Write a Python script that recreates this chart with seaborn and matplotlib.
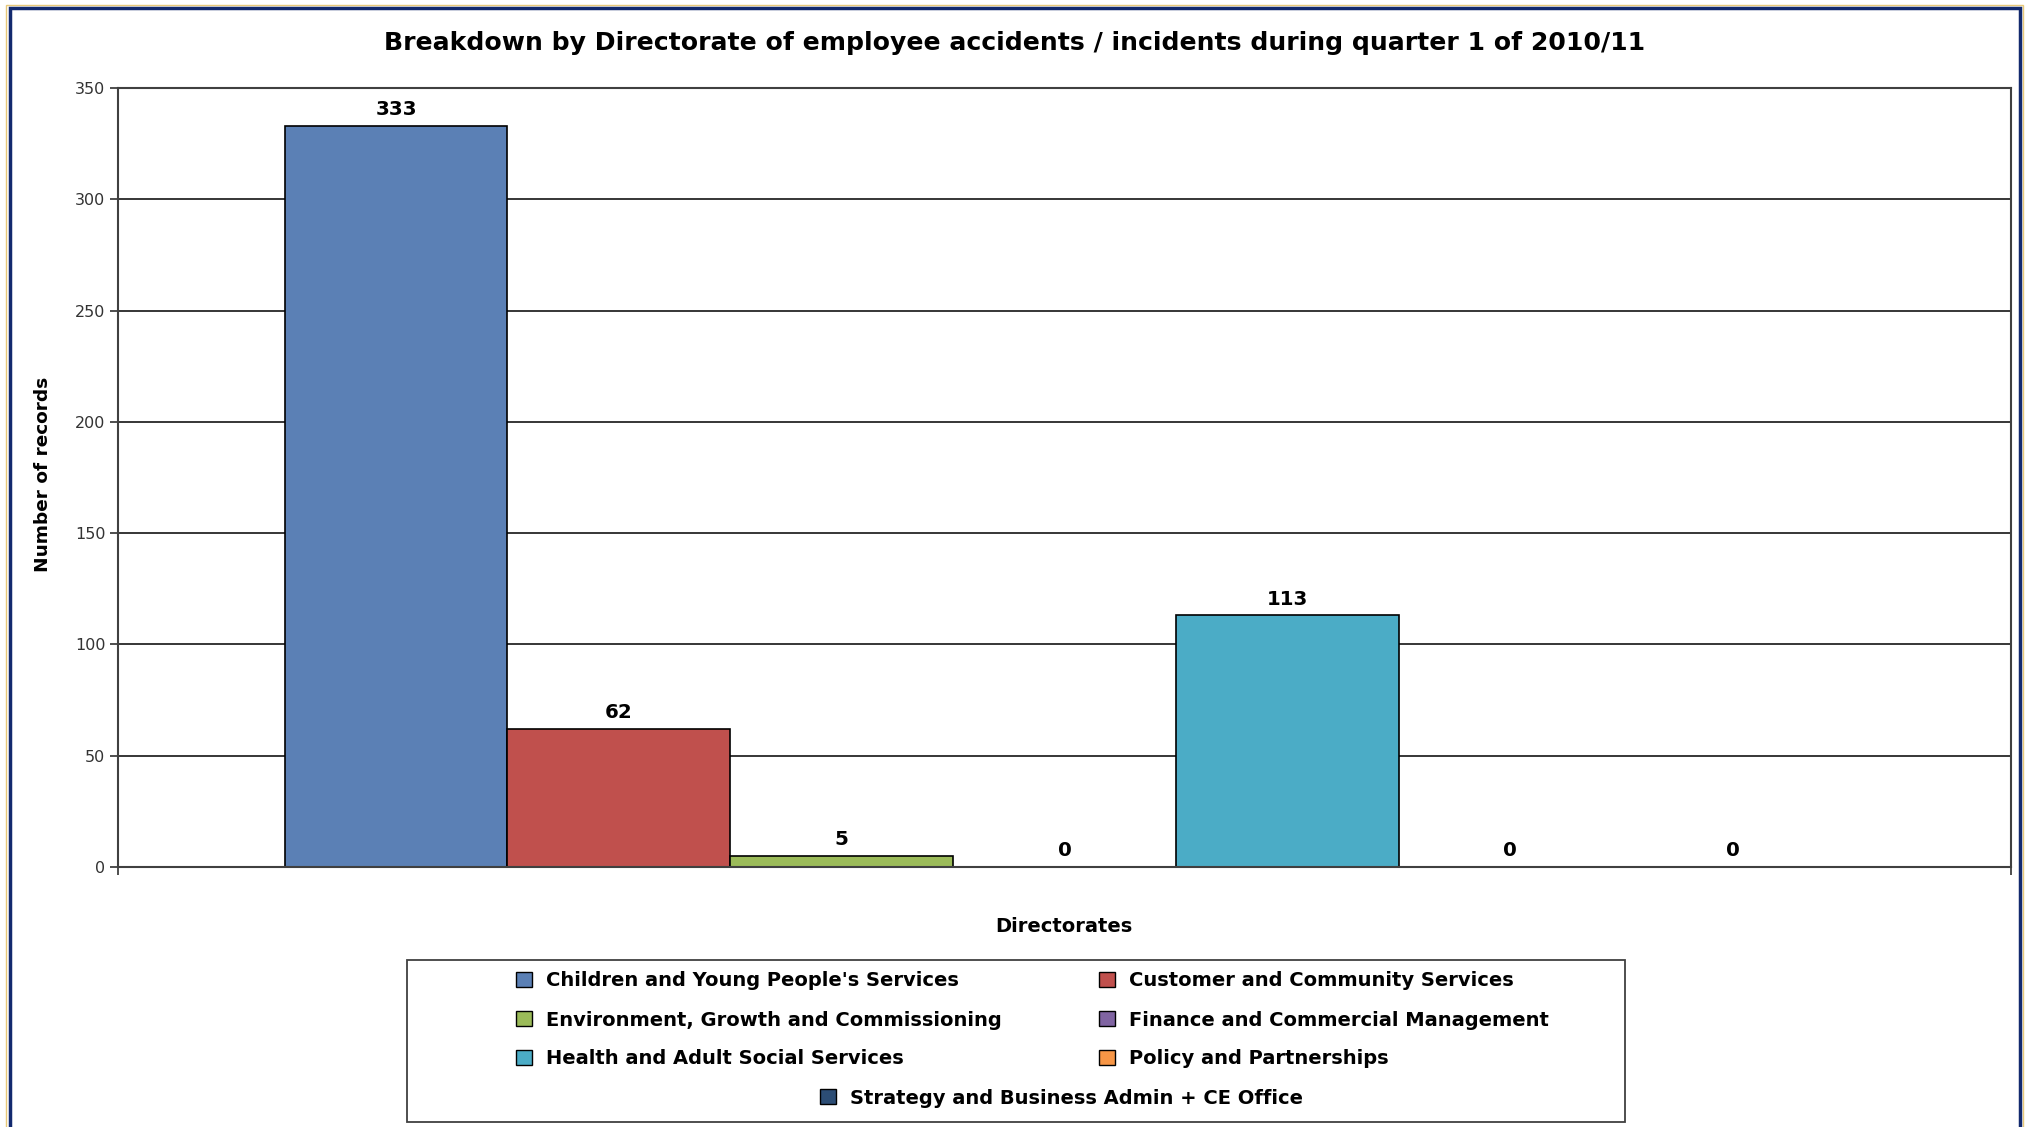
import matplotlib
matplotlib.use("Agg")
import matplotlib.pyplot as plt
from matplotlib.patches import Rectangle
import seaborn as sns
import pandas as pd

# ---- data ----
directorates = [
    "Children and Young People's Services",
    "Customer and Community Services",
    "Environment, Growth and Commissioning",
    "Finance and Commercial Management",
    "Health and Adult Social Services",
    "Policy and Partnerships",
    "Strategy and Business Admin + CE Office",
]
records = [333, 62, 5, 0, 113, 0, 0]
colors = ["#5B80B5", "#C0504D", "#9BBB59", "#8064A2", "#4BACC6", "#F79646", "#2C4D75"]
y_ticks = [0, 50, 100, 150, 200, 250, 300, 350]
title = "Breakdown by Directorate of employee accidents / incidents during quarter 1 of 2010/11"
x_title = "Directorates"
y_title = "Number of records"

df = pd.DataFrame({"group": ["Q1"] * len(directorates),
                   "Directorate": directorates,
                   "Records": records})

sns.set_style("white")
plt.rcParams["font.family"] = ["DejaVu Sans"]
plt.rcParams["text.color"] = "black"

W, H = 2027, 1127
fig = plt.figure(figsize=(W / 100, H / 100), dpi=100)
ax = fig.add_axes([118 / W, 1 - 867 / H, (2011 - 118) / W, (867 - 88) / H])

sns.barplot(data=df, x="group", y="Records", hue="Directorate", hue_order=directorates,
            palette=colors, saturation=1, width=0.824, edgecolor="black",
            linewidth=1.2, ax=ax, legend=True)

leg = ax.get_legend()
handles = list(leg.legend_handles)
labels = [t.get_text() for t in leg.get_texts()]
leg.remove()

for c in ax.containers:
    ax.bar_label(c, fmt="%d", padding=5, fontsize=14.3, fontweight="bold", color="black")

ax.set_ylim(0, 350)
ax.set_yticks(y_ticks)
ax.set_xlim(-0.5, 0.5)
ax.set_xticks([-0.5, 0.5])
ax.set_xticklabels(["", ""])
ax.tick_params(axis="y", which="major", direction="out", length=6, width=1.3,
               color="#404040", labelsize=11.5, labelcolor="#333333", pad=3, left=True)
ax.tick_params(axis="x", which="major", direction="out", length=6, width=1.3,
               color="#404040", bottom=True)
ax.yaxis.grid(True, color="black", linewidth=1.1)
ax.set_axisbelow(True)
for s in ax.spines.values():
    s.set_visible(True)
    s.set_color("#404040")
    s.set_linewidth(1.5)

ax.set_xlabel("")
ax.set_ylabel("")
fig.text(1064 / W, 1 - 927 / H, x_title, ha="center", va="center",
         fontsize=14, fontweight="bold", color="black")
fig.text(43 / W, 1 - 474 / H, y_title, ha="center", va="center", rotation=90,
         fontsize=13.3, fontweight="bold", color="black")
fig.text(1015 / W, 1 - 43 / H, title, ha="center", va="center",
         fontsize=18.1, fontweight="bold", color="black")

# legend entries (row-major, last centered)
for h in handles:
    h.set_edgecolor("black")
    h.set_linewidth(1.0)
pos = [(516, 981), (1099, 981), (516, 1020), (1099, 1020), (516, 1059), (1099, 1059), (820, 1098)]
for h, l, (px, py) in zip(handles, labels, pos):
    lg = fig.legend([h], [l], loc="center left", bbox_to_anchor=(px / W, 1 - py / H),
                    frameon=False, prop={"weight": "bold", "size": 14},
                    handlelength=0.8, handleheight=0.8, handletextpad=0.75,
                    borderpad=0, borderaxespad=0)
    for t in lg.get_texts():
        t.set_color("black")

# legend frame
fig.add_artist(Rectangle((407 / W, 1 - 1122 / H), (1625 - 407) / W, (1122 - 960) / H,
                         transform=fig.transFigure, fill=False, edgecolor="#404040",
                         linewidth=1.3))

# outer chart border
fig.add_artist(Rectangle((6 / W, -0.05), (2023 - 6) / W, 1.05 - 5 / H,
                         transform=fig.transFigure, fill=False, edgecolor="#E8C878",
                         linewidth=1.0))
fig.add_artist(Rectangle((9.5 / W, -0.05), (2020 - 9.5) / W, 1.05 - 8.5 / H,
                         transform=fig.transFigure, fill=False, edgecolor="#12296E",
                         linewidth=2.5))

fig.savefig("out.png", dpi=100)
